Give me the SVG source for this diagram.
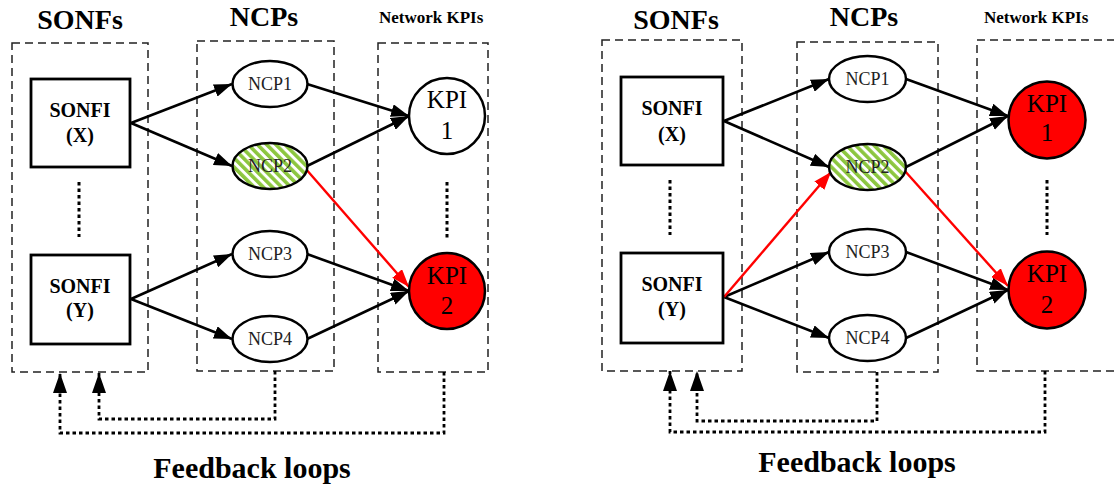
<svg xmlns="http://www.w3.org/2000/svg" width="1114" height="485" viewBox="0 0 1114 485" font-family="'Liberation Serif', 'DejaVu Serif', serif">
  <style>
    text { font-family: 'Liberation Serif', 'DejaVu Serif', serif; }
    .title { font-weight: bold; fill: #000; text-anchor: middle; }
    .big { font-size: 28px; }
    .kpis { font-size: 17px; text-anchor: start; }
    .fb { font-size: 30px; }
    .zone { fill: none; stroke: #222; stroke-width: 1.5; stroke-dasharray: 8 5; }
    .sonfi rect { fill: #fff; stroke: #000; stroke-width: 2.8; }
    .sonfi text { font-weight: bold; font-size: 20px; text-anchor: middle; fill: #000; }
    .ncp ellipse { fill: #fff; stroke: #000; stroke-width: 2.5; }
    .ncp.hot ellipse { fill: url(#stripes); }
    .ncp text { font-size: 18px; text-anchor: middle; fill: #222; }
    .kpi circle { fill: #fff; stroke: #000; stroke-width: 2.5; }
    .kpi.hot circle { fill: #ff0000; }
    .kpi text { font-size: 25px; text-anchor: middle; fill: #000; }
    .link { fill: none; stroke: #000; stroke-width: 2.6; marker-end: url(#arr); }
    .link.red { stroke: #ff0000; stroke-width: 2.4; marker-end: url(#arrRed); }
    .dots { fill: none; stroke: #000; stroke-width: 3; stroke-dasharray: 3.5 3; }
    .loop { fill: none; stroke: #000; stroke-width: 2.8; stroke-dasharray: 3.5 3; marker-end: url(#arrUp); }
  </style>
  <defs>
    <pattern id="stripes" width="6.5" height="6.5" patternUnits="userSpaceOnUse" patternTransform="rotate(-45)">
      <rect width="6.5" height="6.5" fill="#fff"/>
      <rect width="3.6" height="6.5" fill="#8cc63f"/>
    </pattern>
    <marker id="arr" viewBox="0 0 18 13" refX="18" refY="6.5" markerWidth="18" markerHeight="13" markerUnits="userSpaceOnUse" orient="auto">
      <path d="M0,0 L18,6.5 L0,13 Z" fill="#000"/>
    </marker>
    <marker id="arrRed" viewBox="0 0 18 13" refX="18" refY="6.5" markerWidth="18" markerHeight="13" markerUnits="userSpaceOnUse" orient="auto">
      <path d="M0,0 L18,6.5 L0,13 Z" fill="#ff0000"/>
    </marker>
    <marker id="arrUp" viewBox="0 0 20 14" refX="20" refY="7" markerWidth="20" markerHeight="14" markerUnits="userSpaceOnUse" orient="auto">
      <path d="M0,0 L20,7 L0,14 Z" fill="#000"/>
    </marker>
  </defs>

  <!-- ===== Left panel ===== -->
  <g id="left-headings">
    <text class="title big" x="80" y="29">SONFs</text>
    <text class="title big" x="264" y="26">NCPs</text>
    <text class="title kpis" x="379" y="23">Network KPIs</text>
  </g>
  <g id="left-zones">
    <rect class="zone" x="12" y="43" width="136" height="329"/>
    <rect class="zone" x="197" y="41" width="137" height="330"/>
    <rect class="zone" x="378" y="43" width="110" height="329"/>
  </g>

  <g id="left-connectors">
    <path class="link" d="M131,123 L232,84"/>
    <path class="link" d="M131,123 L232,166"/>
    <path class="link" d="M131,299 L232,254"/>
    <path class="link" d="M131,299 L232,339"/>
    <path class="link" d="M307,84 L409,116"/>
    <path class="link" d="M307,166 L409,116"/>
    <path class="link" d="M307,254 L409,291"/>
    <path class="link" d="M307,339 L409,291"/>
    <path class="link red" d="M305,168 L409,287"/>
    <path class="dots" d="M79,182 V237"/>
    <path class="dots" d="M447,182 V238"/>
    <path class="loop" d="M275,371 V419 H99 V373"/>
    <path class="loop" d="M444,372 V433 H60 V373"/>
  </g>

  <g id="L-sonfi-x" class="sonfi">
    <rect x="31" y="79" width="99" height="88"/>
    <text x="80" y="117">SONFI</text>
    <text x="80" y="142">(X)</text>
  </g>
  <g id="L-sonfi-y" class="sonfi">
    <rect x="31" y="255" width="99" height="89"/>
    <text x="80" y="293">SONFI</text>
    <text x="80" y="317">(Y)</text>
  </g>
  <g id="L-ncp1" class="ncp">
    <ellipse cx="270" cy="84" rx="37.5" ry="23"/>
    <text x="270" y="90">NCP1</text>
  </g>
  <g id="L-ncp2" class="ncp hot">
    <ellipse cx="270" cy="166" rx="37.5" ry="23"/>
    <text x="270" y="172">NCP2</text>
  </g>
  <g id="L-ncp3" class="ncp">
    <ellipse cx="270" cy="254" rx="37.5" ry="23"/>
    <text x="270" y="260">NCP3</text>
  </g>
  <g id="L-ncp4" class="ncp">
    <ellipse cx="270" cy="339" rx="37.5" ry="23"/>
    <text x="270" y="345">NCP4</text>
  </g>
  <g id="L-kpi1" class="kpi">
    <circle cx="447" cy="116" r="38"/>
    <text x="447" y="108">KPI</text>
    <text x="447" y="139">1</text>
  </g>
  <g id="L-kpi2" class="kpi hot">
    <circle cx="447" cy="291" r="38"/>
    <text x="447" y="284">KPI</text>
    <text x="447" y="314">2</text>
  </g>
  <text class="title fb" x="252" y="478">Feedback loops</text>

  <!-- ===== Right panel ===== -->
  <g id="right-headings">
    <text class="title big" x="676" y="29">SONFs</text>
    <text class="title big" x="864" y="26">NCPs</text>
    <text class="title kpis" x="984" y="23">Network KPIs</text>
  </g>
  <g id="right-zones">
    <rect class="zone" x="602" y="40" width="140" height="331"/>
    <rect class="zone" x="797" y="42" width="141" height="330"/>
    <rect class="zone" x="977" y="40" width="150" height="331"/>
  </g>

  <g id="right-connectors">
    <path class="link" d="M724,121 L829,79"/>
    <path class="link" d="M724,121 L829,167"/>
    <path class="link" d="M724,297 L829,252"/>
    <path class="link" d="M724,297 L829,338"/>
    <path class="link" d="M906,79 L1008,116"/>
    <path class="link" d="M906,167 L1008,116"/>
    <path class="link" d="M906,252 L1008,290"/>
    <path class="link" d="M906,338 L1008,290"/>
    <path class="link red" d="M724,297 L831,172"/>
    <path class="link red" d="M904,170 L1008,286"/>
    <path class="dots" d="M670,180 V235"/>
    <path class="dots" d="M1047,180 V235"/>
    <path class="loop" d="M877,372 V421 H697 V371"/>
    <path class="loop" d="M1045,371 V432 H670 V371"/>
  </g>

  <g id="R-sonfi-x" class="sonfi">
    <rect x="621" y="77" width="102" height="88"/>
    <text x="672" y="115">SONFI</text>
    <text x="672" y="141">(X)</text>
  </g>
  <g id="R-sonfi-y" class="sonfi">
    <rect x="621" y="253" width="102" height="90"/>
    <text x="672" y="291">SONFI</text>
    <text x="672" y="316">(Y)</text>
  </g>
  <g id="R-ncp1" class="ncp">
    <ellipse cx="867.5" cy="79" rx="38.5" ry="23"/>
    <text x="867.5" y="85">NCP1</text>
  </g>
  <g id="R-ncp2" class="ncp hot">
    <ellipse cx="867.5" cy="167" rx="38.5" ry="23"/>
    <text x="867.5" y="173">NCP2</text>
  </g>
  <g id="R-ncp3" class="ncp">
    <ellipse cx="867.5" cy="252" rx="38.5" ry="23"/>
    <text x="867.5" y="258">NCP3</text>
  </g>
  <g id="R-ncp4" class="ncp">
    <ellipse cx="867.5" cy="338" rx="38.5" ry="23"/>
    <text x="867.5" y="344">NCP4</text>
  </g>
  <g id="R-kpi1" class="kpi hot">
    <circle cx="1047" cy="120" r="38.5"/>
    <text x="1047" y="112">KPI</text>
    <text x="1047" y="141">1</text>
  </g>
  <g id="R-kpi2" class="kpi hot">
    <circle cx="1047" cy="290" r="38.5"/>
    <text x="1047" y="282">KPI</text>
    <text x="1047" y="313">2</text>
  </g>
  <text class="title fb" x="857" y="472">Feedback loops</text>
</svg>
